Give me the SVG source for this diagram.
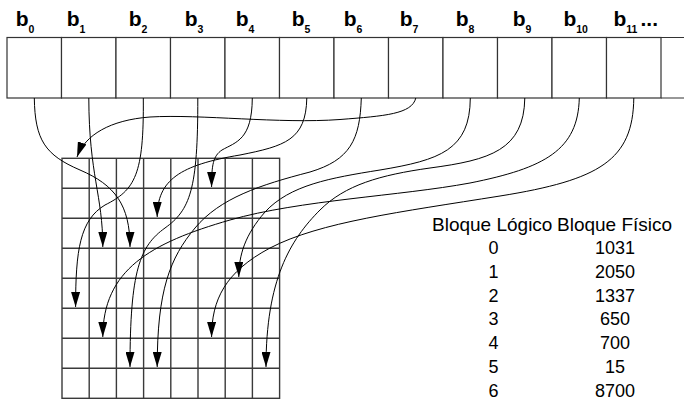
<svg xmlns="http://www.w3.org/2000/svg" width="684" height="400" viewBox="0 0 684 400">
  <style>
    .cell { fill: #fff; stroke: #333; stroke-width: 1.2; }
    .edge { fill: none; stroke: #333; stroke-width: 1.2; }
    .lbl { font-family: "Liberation Sans", Arial, sans-serif; font-weight: bold; font-size: 21px; fill: #000; }
    .sub { font-size: 10.5px; }
    .grid { fill: none; stroke: #3a3a3a; stroke-width: 1.4; }
    .link { fill: none; stroke: #000; stroke-width: 1; marker-end: url(#arrow); }
    .tbl { font-family: "Liberation Sans", Arial, sans-serif; font-size: 18px; fill: #000; }
    .hdr { font-size: 19px; }
  </style>
  <defs>
    <marker id="arrow" viewBox="0 0 15 9" refX="15" refY="4.5" markerWidth="15" markerHeight="9" markerUnits="userSpaceOnUse" orient="auto">
      <path d="M0,0 L15,4.5 L0,9 z" fill="#000"/>
    </marker>
  </defs>

  <rect width="684" height="400" fill="#fff"/>

  <!-- logical blocks of the file -->
  <g id="blocks">
    <g id="b0"><rect class="cell" x="7" y="37.5" width="54.5" height="60.5"/><text class="lbl" x="15.7" y="25.5">b<tspan class="sub" dy="7.8">0</tspan></text></g>
    <g id="b1"><rect class="cell" x="61.5" y="37.5" width="54.5" height="60.5"/><text class="lbl" x="66.7" y="25.5">b<tspan class="sub" dy="7.8">1</tspan></text></g>
    <g id="b2"><rect class="cell" x="116" y="37.5" width="54.5" height="60.5"/><text class="lbl" x="128.7" y="25.5">b<tspan class="sub" dy="7.8">2</tspan></text></g>
    <g id="b3"><rect class="cell" x="170.5" y="37.5" width="54.5" height="60.5"/><text class="lbl" x="184.7" y="25.5">b<tspan class="sub" dy="7.8">3</tspan></text></g>
    <g id="b4"><rect class="cell" x="225" y="37.5" width="54.5" height="60.5"/><text class="lbl" x="235.7" y="25.5">b<tspan class="sub" dy="7.8">4</tspan></text></g>
    <g id="b5"><rect class="cell" x="279.5" y="37.5" width="54.5" height="60.5"/><text class="lbl" x="291.7" y="25.5">b<tspan class="sub" dy="7.8">5</tspan></text></g>
    <g id="b6"><rect class="cell" x="334" y="37.5" width="54.5" height="60.5"/><text class="lbl" x="343.7" y="25.5">b<tspan class="sub" dy="7.8">6</tspan></text></g>
    <g id="b7"><rect class="cell" x="388.5" y="37.5" width="54.5" height="60.5"/><text class="lbl" x="399.7" y="25.5">b<tspan class="sub" dy="7.8">7</tspan></text></g>
    <g id="b8"><rect class="cell" x="443" y="37.5" width="54.5" height="60.5"/><text class="lbl" x="455.7" y="25.5">b<tspan class="sub" dy="7.8">8</tspan></text></g>
    <g id="b9"><rect class="cell" x="497.5" y="37.5" width="54.5" height="60.5"/><text class="lbl" x="512.7" y="25.5">b<tspan class="sub" dy="7.8">9</tspan></text></g>
    <g id="b10"><rect class="cell" x="552" y="37.5" width="54.5" height="60.5"/><text class="lbl" x="563.4" y="25.5">b<tspan class="sub" dy="7.8">10</tspan></text></g>
    <g id="b11"><rect class="cell" x="606.5" y="37.5" width="54.5" height="60.5"/><text class="lbl" x="613.4" y="25.5">b<tspan class="sub" dy="7.8">11</tspan></text><text class="lbl" x="640.5" y="25.5">...</text></g>
    <g id="b-more"><path class="edge" d="M661,37.5 H684 M661,98 H684"/></g>
  </g>

  <!-- physical disk blocks -->
  <g id="disk">
    <rect class="grid" x="62" y="158.3" width="217.6" height="240"/>
    <path class="grid" d="M89.2,158.3 V398.3 M116.4,158.3 V398.3 M143.6,158.3 V398.3 M170.8,158.3 V398.3 M198,158.3 V398.3 M225.2,158.3 V398.3 M252.4,158.3 V398.3
      M62,188.3 H279.6 M62,218.3 H279.6 M62,248.3 H279.6 M62,278.3 H279.6 M62,308.3 H279.6 M62,338.3 H279.6 M62,368.3 H279.6"/>
  </g>

  <!-- block-to-disk mapping -->
  <g id="connectors">
    <path class="link" d="M34.3,98 C35,140 45,155 80,170 C115,185 130,205 130,247"/>
    <path class="link" d="M88.8,98 C89,175 102.8,195 102.8,247"/>
    <path class="link" d="M143.3,98 C144,175 135,190 105,205 C80,220 75.6,250 75.6,307"/>
    <path class="link" d="M197.8,98 C198,190 190,210 165,228 C140,246 130,270 130,367"/>
    <path class="link" d="M252.3,98 C252,140 236,142 222,150 C213,156 211.6,165 211.6,187"/>
    <path class="link" d="M306.8,98 C306,140 285,146 240,155 C180,165 157.2,180 157.2,217"/>
    <path class="link" d="M361.3,98 C360,140 350,160 310,172 C260,185 220,198 195,228 C170,258 157.2,290 157.2,367"/>
    <path class="link" d="M415.8,98 C412,114 385,116 340,119.5 C280,124 200,114 150,117 C110,120 85,135 77,157"/>
    <path class="link" d="M470.3,98 C470,150 440,160 380,170 C330,178 290,185 265,212 C245,235 238.8,255 238.8,277"/>
    <path class="link" d="M524.8,98 C524,150 490,160 430,168 C380,175 345,185 320,210 C290,240 266,280 266,367"/>
    <path class="link" d="M579.3,98 C578,150 545,168 470,183 C400,196 300,200 230,220 C150,243 102.8,270 102.8,337"/>
    <path class="link" d="M633.8,98 C633,160 600,180 500,196 C400,212 320,222 270,248 C225,272 211.6,300 211.6,337"/>
  </g>

  <!-- logical to physical table -->
  <g id="table" class="tbl">
    <text class="hdr" x="432" y="230.5">Bloque Lógico</text>
    <text class="hdr" x="557" y="230.5">Bloque Físico</text>
    <g text-anchor="middle">
      <text x="493.5" y="254">0</text><text x="615" y="254">1031</text>
      <text x="493.5" y="277.5">1</text><text x="615" y="277.5">2050</text>
      <text x="493.5" y="301.5">2</text><text x="615" y="301.5">1337</text>
      <text x="493.5" y="325">3</text><text x="615" y="325">650</text>
      <text x="493.5" y="349">4</text><text x="615" y="349">700</text>
      <text x="493.5" y="373">5</text><text x="615" y="373">15</text>
      <text x="493.5" y="396.7">6</text><text x="615" y="396.7">8700</text>
    </g>
  </g>
</svg>
